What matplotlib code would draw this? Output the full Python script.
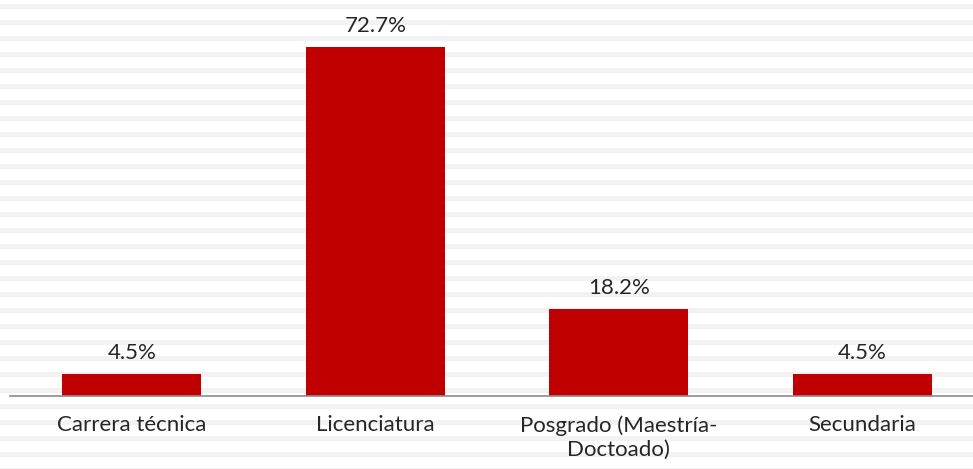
import numpy as np
import matplotlib.pyplot as plt
from matplotlib.patches import Rectangle

categories = ["Carrera técnica", "Licenciatura", "Posgrado (Maestría-\nDoctoado)", "Secundaria"]
values = [4.5, 72.7, 18.2, 4.5]

W, H = 973, 469
fig = plt.figure(figsize=(W / 100, H / 100), dpi=100)
fig.patch.set_facecolor("white")

# background pattern of narrow horizontal stripes
for y0 in np.arange(4, H, 16):
    fig.add_artist(Rectangle((0, 1 - (y0 + 5) / H), 1, 5 / H, transform=fig.transFigure,
                             facecolor="#f2f2f2", edgecolor="none", zorder=0))

ax = fig.add_axes([10 / W, (H - 396) / H, 974 / W, 384 / H])
ax.patch.set_alpha(0)
x = np.arange(len(categories))
bars = ax.bar(x, values, width=0.57, color="#c00000", zorder=2)
ax.set_xlim(-0.5, 3.5)
ax.set_ylim(0, 80)

for b, v in zip(bars, values):
    ax.annotate(f"{v:.1f}%", (b.get_x() + b.get_width() / 2, v), xytext=(0, 8),
                textcoords="offset points", ha="center", va="bottom",
                fontsize=16, family="Lato", color="#262626")

ax.set_xticks(x)
ax.set_xticklabels(categories, fontsize=16, family="Lato", color="#262626", linespacing=1.25)
ax.tick_params(axis="x", length=0, pad=14)
ax.set_yticks([])
for s in ["top", "right", "left"]:
    ax.spines[s].set_visible(False)
ax.spines["bottom"].set_color("#8c8c8c")
ax.spines["bottom"].set_linewidth(1.2)

fig.savefig("out.png", dpi=100)
